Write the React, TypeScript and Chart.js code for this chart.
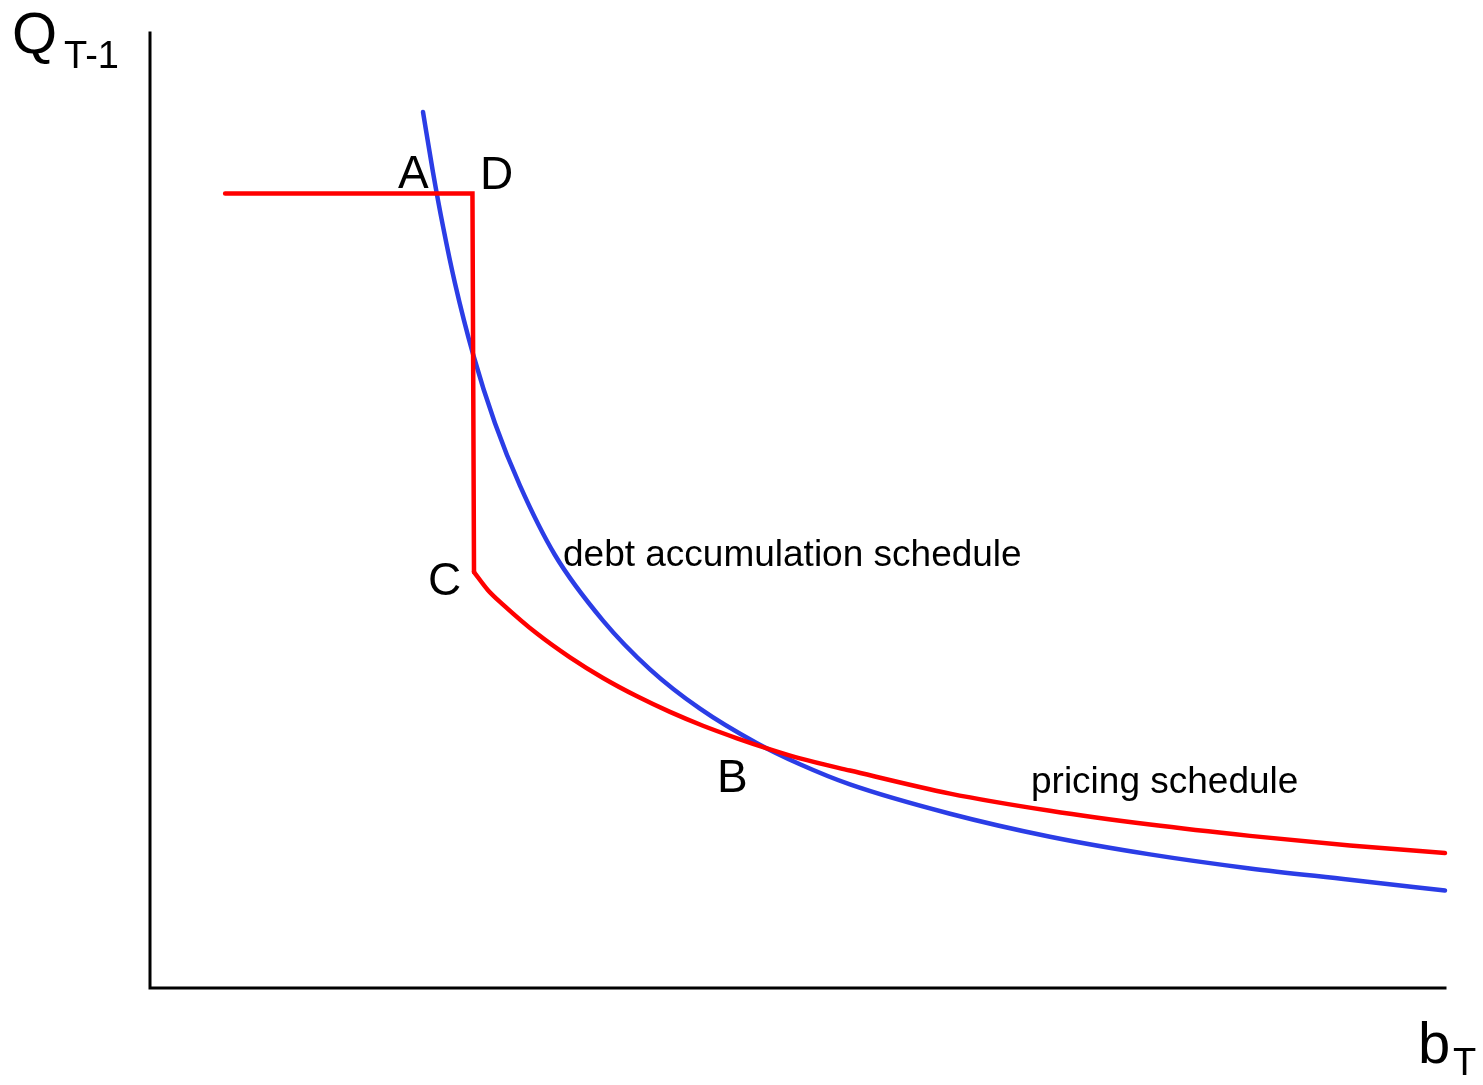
import React, { useEffect, useRef } from "react";
import { Chart, registerables } from "chart.js";

Chart.register(...registerables);

// Axis frame (units: b_T from 0 to 100, Q_{T-1} from 0 to 100)
const axisX = [0, 0, 100];
const axisY = [100, 0, 0];

// Pricing schedule: flat part then vertical drop (A-D-C)
const pricingStepX = [5.8, 24.9, 25.02];
const pricingStepY = [83.2, 83.2, 43.56];

// Pricing schedule: declining branch from C through B
const pricingCurveX = [25.02, 26.1, 27.26, 29.88, 32.43, 34.98, 37.61, 40.15, 42.7, 45.33, 47.88, 50.19, 54.05, 61.78, 69.5, 77.22, 84.94, 92.66, 100];
const pricingCurveY = [43.56, 41.66, 40.15, 37.11, 34.62, 32.46, 30.54, 28.91, 27.46, 26.15, 24.99, 24.04, 22.77, 20.35, 18.55, 17.11, 15.93, 14.93, 14.14];

// Debt accumulation schedule
const debtX = [21.08, 21.85, 22.63, 23.55, 24.94, 26.64, 28.57, 31.27, 34.98, 38.61, 42.47, 46.87, 50.19, 54.05, 61.78, 69.5, 77.22, 84.94, 92.66, 100];
const debtY = [91.73, 85.44, 79.72, 73.8, 66.4, 59.14, 52.6, 45.34, 38.47, 33.37, 29.25, 25.63, 23.43, 21.32, 18.25, 15.84, 13.99, 12.52, 11.34, 10.2];

// Text labels (placed in data units)
const labelTexts = ["Q", "T-1", "A", "D", "C", "B", "debt accumulation schedule", "pricing schedule", "b", "T"];
const labelX = [-10.66, -6.64, 19.15, 25.48, 21.47, 43.78, 31.89, 68.03, 97.92, 100.62];
const labelY = [97.9, 96.3, 83.77, 83.66, 41.15, 20.52, 44.19, 20.42, -7.85, -9.11];
const labelSizes = [58, 38, 46, 46, 46, 46, 37, 37, 58, 38];

const zip = (xs: number[], ys: number[]) => xs.map((x, i) => ({ x, y: ys[i] }));

const labelPlugin = {
  id: "textLabels",
  afterDatasetsDraw(chart: any) {
    const ctx = chart.ctx;
    const xs = chart.scales.x;
    const ys = chart.scales.y;
    ctx.save();
    ctx.fillStyle = "#000";
    ctx.textAlign = "left";
    ctx.textBaseline = "alphabetic";
    labelTexts.forEach((t, i) => {
      ctx.font = `${labelSizes[i]}px "Liberation Sans", Arial, sans-serif`;
      ctx.fillText(t, xs.getPixelForValue(labelX[i]), ys.getPixelForValue(labelY[i]));
    });
    ctx.restore();
  },
};

export default function App() {
  const ref = useRef<HTMLCanvasElement | null>(null);

  useEffect(() => {
    if (!ref.current) return;
    const chart = new Chart(ref.current, {
      type: "line",
      data: {
        datasets: [
          {
            data: zip(axisX, axisY),
            borderColor: "#000",
            borderWidth: 3,
            pointRadius: 0,
            tension: 0,
            clip: false,
            borderCapStyle: "square",
            borderJoinStyle: "miter",
          } as any,
          {
            data: zip(pricingStepX, pricingStepY),
            borderColor: "#ff0000",
            borderWidth: 4.5,
            pointRadius: 0,
            tension: 0,
            clip: false,
            borderCapStyle: "round",
            borderJoinStyle: "miter",
          } as any,
          {
            data: zip(pricingCurveX, pricingCurveY),
            borderColor: "#ff0000",
            borderWidth: 4.5,
            pointRadius: 0,
            cubicInterpolationMode: "monotone",
            clip: false,
            borderCapStyle: "round",
          } as any,
          {
            data: zip(debtX, debtY),
            borderColor: "#2b3de6",
            borderWidth: 4.5,
            pointRadius: 0,
            cubicInterpolationMode: "monotone",
            clip: false,
            borderCapStyle: "round",
          } as any,
        ],
      },
      options: {
        animation: false,
        responsive: false,
        maintainAspectRatio: false,
        layout: { padding: { left: 150, right: 38, top: 33, bottom: 97 } },
        plugins: { legend: { display: false }, tooltip: { enabled: false } },
        scales: {
          x: { type: "linear", min: 0, max: 100, display: false },
          y: { type: "linear", min: 0, max: 100, display: false },
        },
      },
      plugins: [labelPlugin],
    });
    return () => chart.destroy();
  }, []);

  return (
    <canvas
      ref={ref}
      width={1483}
      height={1085}
      style={{ position: "fixed", left: 0, top: 0, width: 1483, height: 1085, background: "#fff" }}
    />
  );
}
